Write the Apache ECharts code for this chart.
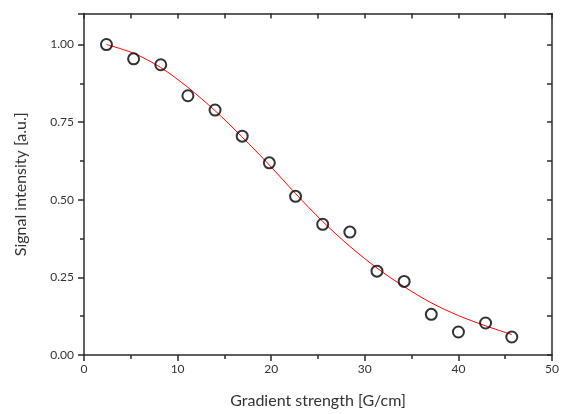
<!DOCTYPE html>
<html>
<head>
<meta charset="utf-8">
<script src="https://cdn.jsdelivr.net/npm/echarts@6/dist/echarts.min.js"></script>
<style>html,body{margin:0;padding:0;background:#fff}#c{width:562px;height:414px}</style>
</head>
<body>
<div id="c"></div>
<script>
// Measured data
const gradient = [2.4, 5.3, 8.2, 11.1, 14.0, 16.9, 19.8, 22.6, 25.5, 28.4, 31.3, 34.2, 37.1, 40.0, 42.9, 45.7];
const signal = [1.00, 0.954, 0.935, 0.835, 0.789, 0.705, 0.619, 0.511, 0.421, 0.396, 0.270, 0.237, 0.131, 0.074, 0.103, 0.058];
// Fit curve
const fitX = [2.4, 5.3, 8.2, 11.1, 14.0, 16.9, 19.8, 22.6, 25.5, 28.4, 31.3, 34.2, 37.1, 40.0, 42.9, 45.7];
const fitY = [1.00, 0.972, 0.926, 0.862, 0.787, 0.702, 0.612, 0.520, 0.430, 0.350, 0.280, 0.220, 0.168, 0.127, 0.094, 0.066];
const yTicks = ['0.00', '0.25', '0.50', '0.75', '1.00'];

const FONT = 'Lato, "Open Sans", sans-serif';
const AX = '#2b2b2b';
const chart = echarts.init(document.getElementById('c'), null, {renderer: 'canvas'});
const lineStyle = {color: AX, width: 1.5};
chart.setOption({
  animation: false,
  backgroundColor: '#fff',
  grid: {left: 84, right: 8, top: 13.5, bottom: 55},
  xAxis: [
    {
      type: 'value', position: 'bottom', min: 0, max: 50, interval: 10,
      axisLine: {show: true, onZero: false, lineStyle},
      axisTick: {show: true, inside: false, length: 6, lineStyle},
      minorTick: {show: true, splitNumber: 2, length: 4, lineStyle},
      splitLine: {show: false},
      axisLabel: {color: '#333', fontSize: 12, fontFamily: FONT, margin: 8},
      name: 'Gradient strength [G/cm]', nameLocation: 'middle', nameGap: 38,
      nameTextStyle: {color: '#333', fontSize: 16, fontFamily: FONT}
    },
    {
      type: 'value', position: 'top', min: 0, max: 50, interval: 5,
      axisLine: {show: true, onZero: false, lineStyle},
      axisTick: {show: true, inside: true, length: 5, lineStyle},
      splitLine: {show: false}, axisLabel: {show: false}
    }
  ],
  yAxis: [
    {
      type: 'value', position: 'left', min: 0, max: 1.1, interval: 0.25,
      axisLine: {show: true, onZero: false, lineStyle},
      axisTick: {show: true, inside: false, length: 6, lineStyle},
      splitLine: {show: false},
      axisLabel: {color: '#333', fontSize: 12, fontFamily: FONT, margin: 10,
        formatter: v => { const i = Math.round(v / 0.25); return Math.abs(v - i * 0.25) < 1e-6 && yTicks[i] ? yTicks[i] : ''; }},
      name: 'Signal intensity [a.u.]', nameLocation: 'middle', nameGap: 55,
      nameTextStyle: {color: '#333', fontSize: 16, fontFamily: FONT}
    },
    {
      type: 'value', position: 'left', min: 0, max: 1.1, interval: 0.125,
      axisLine: {show: false}, splitLine: {show: false}, axisLabel: {show: false},
      axisTick: {show: true, inside: false, length: 4, lineStyle}
    },
    {
      type: 'value', position: 'right', min: 0, max: 1.1, interval: 0.125,
      axisLine: {show: true, onZero: false, lineStyle},
      axisTick: {show: true, inside: true, length: 5, lineStyle},
      splitLine: {show: false}, axisLabel: {show: false}
    }
  ],
  series: [
    {
      type: 'line', xAxisIndex: 0, yAxisIndex: 0,
      data: fitX.map((x, i) => [x, fitY[i]]),
      smooth: 0.3, showSymbol: false, symbol: 'none',
      lineStyle: {color: '#ff0000', width: 1}, z: 2
    },
    {
      type: 'scatter', xAxisIndex: 0, yAxisIndex: 0,
      data: gradient.map((x, i) => [x, signal[i]]),
      symbol: 'circle', symbolSize: 11,
      itemStyle: {color: 'rgba(255,255,255,0)', borderColor: '#000', borderWidth: 2}, z: 3
    }
  ]
});
</script>
</body>
</html>
